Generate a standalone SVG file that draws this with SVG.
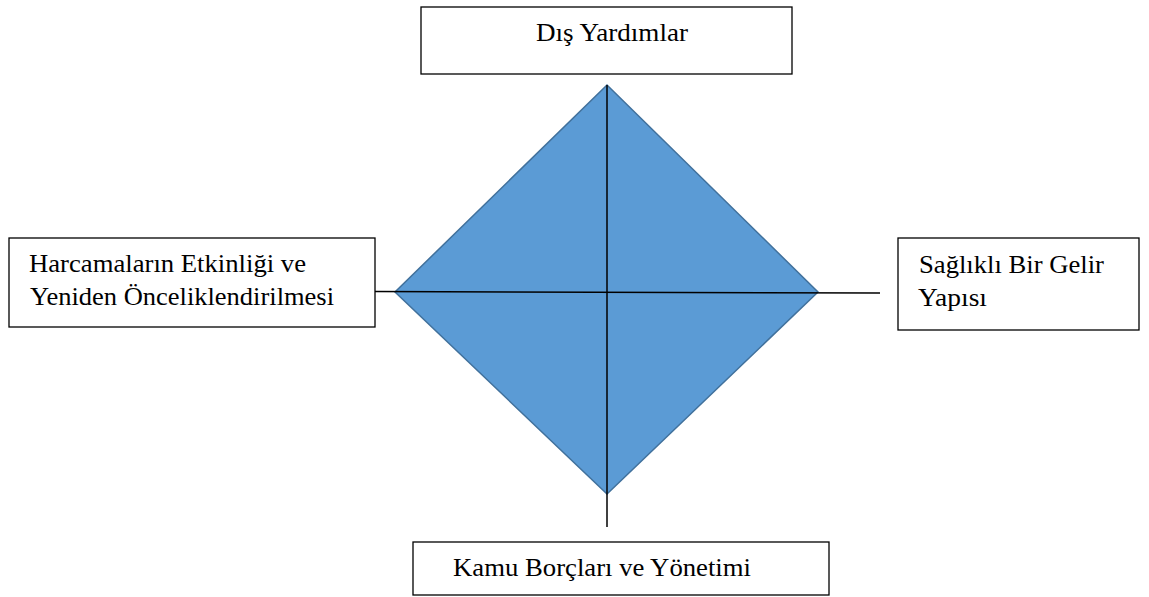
<svg xmlns="http://www.w3.org/2000/svg" width="1149" height="597" viewBox="0 0 1149 597">
<style>
.box{fill:#fff;stroke:#000;stroke-width:1.3}
.t{font-family:'Liberation Serif','Times New Roman',Times,serif;font-size:25px;fill:#000}
.ln{stroke:#000;stroke-width:1.5;fill:none}
</style>
<rect width="1149" height="597" fill="#fff"/>
<g id="diamond">
<polygon points="607,85 818,292 607,494 395,292" fill="#5B9BD5" stroke="#41719C" stroke-width="1.5"/>
</g>
<g id="connectors">
<line class="ln" x1="607" y1="85" x2="607" y2="527"/>
<line class="ln" x1="375" y1="291.5" x2="880" y2="293"/>
</g>
<g id="node-top">
<rect class="box" x="421" y="7" width="371" height="67"/>
<text class="t" x="536" y="41" textLength="152" lengthAdjust="spacingAndGlyphs">Dış Yardımlar</text>
</g>
<g id="node-left">
<rect class="box" x="9" y="238" width="366" height="89"/>
<text class="t" x="29" y="272" textLength="277" lengthAdjust="spacingAndGlyphs">Harcamaların Etkinliği ve</text>
<text class="t" x="30" y="305" textLength="304" lengthAdjust="spacingAndGlyphs">Yeniden Önceliklendirilmesi</text>
</g>
<g id="node-right">
<rect class="box" x="898" y="238" width="241" height="92"/>
<text class="t" x="919" y="273" textLength="185" lengthAdjust="spacingAndGlyphs">Sağlıklı Bir Gelir</text>
<text class="t" x="918" y="306" textLength="69" lengthAdjust="spacingAndGlyphs">Yapısı</text>
</g>
<g id="node-bottom">
<rect class="box" x="413" y="542" width="416" height="53"/>
<text class="t" x="453" y="576" textLength="298" lengthAdjust="spacingAndGlyphs">Kamu Borçları ve Yönetimi</text>
</g>
</svg>
